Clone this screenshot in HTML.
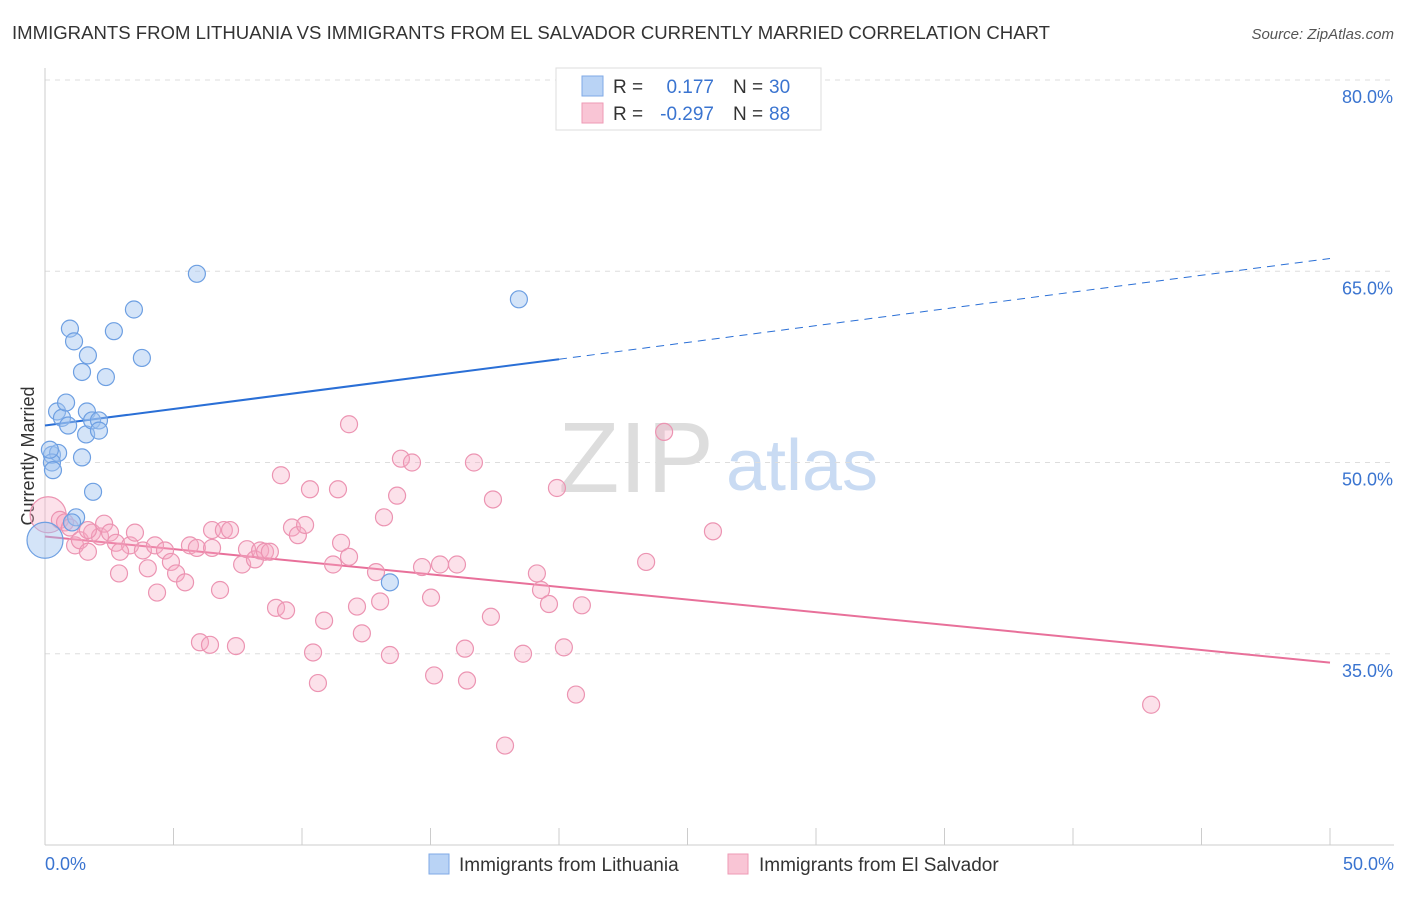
<!DOCTYPE html>
<html><head><meta charset="utf-8"><style>
body{margin:0;background:#fff;font-family:"Liberation Sans",sans-serif;}
svg text{font-family:"Liberation Sans",sans-serif;}
</style></head><body>
<svg id="chart" width="1406" height="892" xmlns="http://www.w3.org/2000/svg">
<text x="12" y="39" font-size="18" fill="#333" textLength="1038" lengthAdjust="spacingAndGlyphs">IMMIGRANTS FROM LITHUANIA VS IMMIGRANTS FROM EL SALVADOR CURRENTLY MARRIED CORRELATION CHART</text>
<text x="1394" y="39" font-size="15" fill="#555" text-anchor="end" font-style="italic">Source: ZipAtlas.com</text>
<text x="34" y="456" font-size="18" fill="#333" text-anchor="middle" transform="rotate(-90 34 456)">Currently Married</text>
<g>
<text x="636" y="492" font-size="100" fill="#ddd" font-family="Liberation Serif" text-anchor="middle">ZIP</text>
<text x="802" y="490" font-size="72" fill="#c9dbf3" text-anchor="middle">atlas</text>
</g>
<g id="grid"></g><g id="axes"></g><g id="trends"></g><g id="points"></g>
<g>
<rect x="556" y="68" width="265" height="62" fill="#fff" stroke="#ddd"/>
<rect x="582" y="76" width="21" height="20" fill="#b9d3f5" stroke="#7fa9e6"/>
<rect x="582" y="103" width="21" height="20" fill="#f9c5d5" stroke="#ee9ab5"/>
<text x="613" y="93" font-size="19" fill="#333">R =</text><text x="714" y="93" font-size="19" fill="#3a74d0" text-anchor="end">0.177</text>
<text x="733" y="93" font-size="19" fill="#333">N =</text><text x="769" y="93" font-size="19" fill="#3a74d0">30</text>
<text x="613" y="120" font-size="19" fill="#333">R =</text><text x="714" y="120" font-size="19" fill="#3a74d0" text-anchor="end">-0.297</text>
<text x="733" y="120" font-size="19" fill="#333">N =</text><text x="769" y="120" font-size="19" fill="#3a74d0">88</text>
</g>
<g>
<rect x="429" y="854" width="20" height="20" fill="#b9d3f5" stroke="#7fa9e6"/>
<text x="459" y="871" font-size="19" fill="#333">Immigrants from Lithuania</text>
<rect x="728" y="854" width="20" height="20" fill="#f9c5d5" stroke="#ee9ab5"/>
<text x="759" y="871" font-size="19" fill="#333">Immigrants from El Salvador</text>
</g>
</svg>
<script>
const yTicks=[80,65,50,35];
const xTickLabels=["0.0%","50.0%"];
const blueX=[0.27,0.51,0.27,0.31,0.47,0.66,0.82,0.9,0.97,1.13,1.44,1.44,1.67,1.63,1.6,1.83,2.1,2.1,2.37,2.68,3.46,3.77,5.91,18.44,13.42,1.87,1.21,1.05,0,0.19];
const blueY=[50.6,50.75,50.0,49.4,54.0,53.5,54.7,52.9,60.5,59.5,57.1,50.4,58.4,54.0,52.2,53.3,53.3,52.5,56.7,60.3,62.0,58.2,64.8,62.8,40.6,47.7,45.7,45.3,43.9,51.0];
const pinkX=[0.12,0.58,0.78,0.97,1.17,1.36,1.67,1.83,2.14,2.3,2.53,2.76,2.88,3.31,3.5,3.81,4.0,4.28,4.36,4.67,4.9,5.1,5.45,5.64,5.91,6.03,6.42,6.5,6.81,6.96,7.2,7.43,7.67,7.86,8.17,8.37,8.56,8.75,8.99,9.18,9.38,9.61,9.84,10.12,10.31,10.43,10.62,10.86,11.21,11.4,11.52,11.83,11.83,12.14,12.33,12.88,13.04,13.19,13.42,13.7,13.85,14.28,14.67,15.02,15.14,15.37,16.03,16.34,16.42,16.69,17.35,17.43,17.9,18.6,19.14,19.3,19.61,19.92,20.19,20.66,20.89,24.09,23.39,25.99,43.04,2.92,6.5,1.67];
const pinkY=[45.9,45.5,45.3,44.9,43.5,43.9,43.0,44.5,44.2,45.2,44.5,43.7,41.3,43.5,44.5,43.1,41.7,43.5,39.8,43.1,42.2,41.3,40.6,43.5,43.3,35.9,35.7,44.7,40.0,44.7,44.7,35.6,42.0,43.2,42.4,43.1,43.0,43.0,38.6,49.0,38.4,44.9,44.3,45.1,47.9,35.1,32.7,37.6,42.0,47.9,43.7,42.6,53.0,38.7,36.6,41.4,39.1,45.7,34.9,47.4,50.3,50.0,41.8,39.4,33.3,42.0,42.0,35.4,32.9,50.0,37.9,47.1,27.8,35.0,41.3,40.0,38.9,48.0,35.5,31.8,38.8,52.4,42.2,44.6,31.0,43.0,43.3,44.7];
const blueTrend=[[0,52.9],[20,58.1],[50,66.0]];
const pinkTrend=[[0,44.2],[50,34.3]];
const NS="http://www.w3.org/2000/svg";
const X=v=>45+v*25.7, Y=v=>80+(80-v)*12.75;
function mk(tag,attrs,parent){const e=document.createElementNS(NS,tag);for(const k in attrs)e.setAttribute(k,attrs[k]);document.getElementById(parent).appendChild(e);return e;}
yTicks.forEach(t=>{
 const g=mk('line',{x1:45,x2:1394,y1:Y(t),y2:Y(t),stroke:'#ddd','stroke-dasharray':'5,5'},'grid');
 
 
 const l=mk('text',{x:1393,y:Y(t)+23,'font-size':18,fill:'#3a74d0','text-anchor':'end'},'grid');
 l.textContent=t.toFixed(1)+'%';
 
 
});
const ax=mk('line',{x1:45,x2:1394,y1:845,y2:845,stroke:'#ccc'},'axes');


const ay=mk('line',{x1:45,x2:45,y1:68,y2:845,stroke:'#ccc'},'axes');


for(let i=0;i<=10;i++){const t=mk('line',{x1:X(i*5),x2:X(i*5),y1:828,y2:845,stroke:'#ccc'},'axes');
 
 }
[[0,'start',45],[50,'end',1394]].forEach((d,i)=>{const t=mk('text',{x:d[2],y:870,'font-size':18,fill:'#3a74d0','text-anchor':d[1]},'axes');t.textContent=xTickLabels[i];
 
 });
const b1=mk('line',{x1:X(blueTrend[0][0]),y1:Y(blueTrend[0][1]),x2:X(blueTrend[1][0]),y2:Y(blueTrend[1][1]),stroke:'#2a6fd6','stroke-width':2},'trends');


const b2=mk('line',{x1:X(blueTrend[1][0]),y1:Y(blueTrend[1][1]),x2:X(blueTrend[2][0]),y2:Y(blueTrend[2][1]),stroke:'#2a6fd6','stroke-width':1,'stroke-dasharray':'8,6'},'trends');


const p1=mk('line',{x1:X(pinkTrend[0][0]),y1:Y(pinkTrend[0][1]),x2:X(pinkTrend[1][0]),y2:Y(pinkTrend[1][1]),stroke:'#e8709a','stroke-width':2},'trends');


pinkX.forEach((x,i)=>{const c=mk('circle',{cx:X(x),cy:Y(pinkY[i]),r:i==0?18:8.5,fill:'rgba(245,170,195,0.35)',stroke:'#ec94b2','stroke-width':1.2},'points');
 
 });
blueX.forEach((x,i)=>{const c=mk('circle',{cx:X(x),cy:Y(blueY[i]),r:i==28?18:8.5,fill:'rgba(160,195,240,0.45)',stroke:'#6d9fe2','stroke-width':1.2},'points');
 
 });
</script>
</body></html>
